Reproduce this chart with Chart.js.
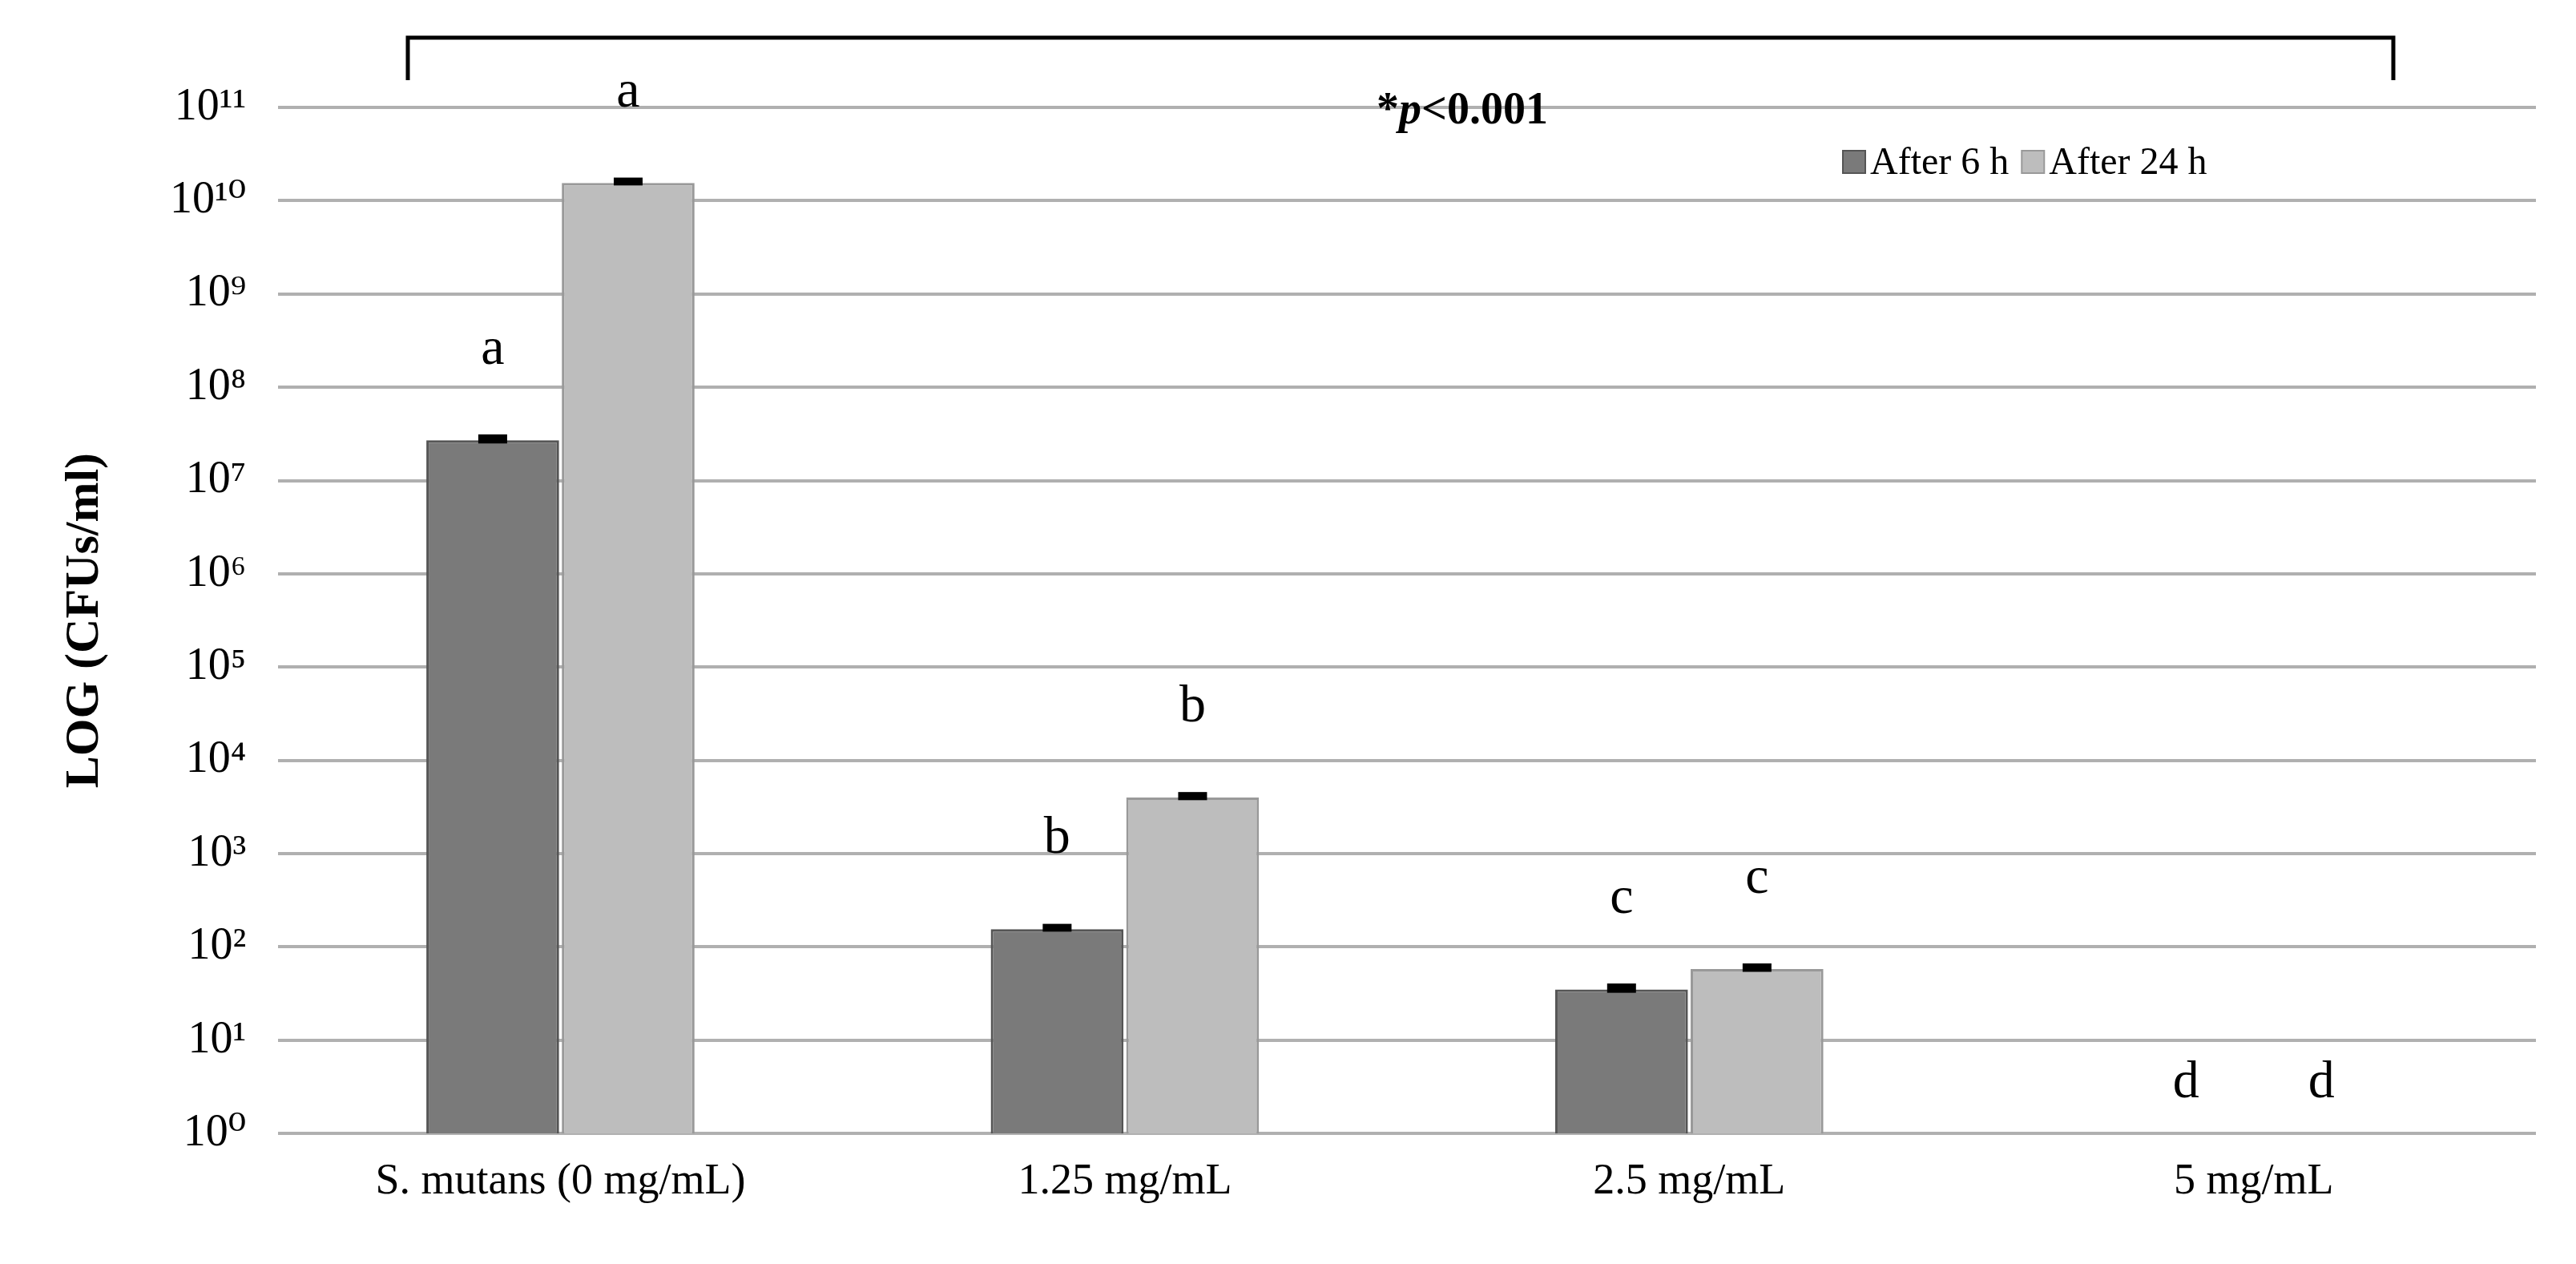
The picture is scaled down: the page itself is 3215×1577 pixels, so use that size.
<!DOCTYPE html>
<html><head><meta charset="utf-8">
<script src="https://cdn.jsdelivr.net/npm/chart.js@4/dist/chart.umd.min.js"></script>
<style>html,body{margin:0;background:#fff}#w{width:3215px;height:1577px}</style>
</head><body><div id="w"><canvas id="c"></canvas></div>
<script>
const categories = ["S. mutans (0 mg/mL)", "1.25 mg/mL", "2.5 mg/mL", "5 mg/mL"];
const after6h = [2.7e7, 155, 35, null];
const after24h = [1.55e10, 4000, 58, null];
const err6h = [0.3e7, 15, 4, null];
const err24h = [0.15e10, 400, 6, null];
const letters6h = ["a", "b", "c", "d"];
const letters24h = ["a", "b", "c", "d"];
const yTicks = [1,10,100,1e3,1e4,1e5,1e6,1e7,1e8,1e9,1e10,1e11];
const legendLabels = ["After 6 h", "After 24 h"];
const pText = "<0.001";

const SERIF = "'Liberation Serif','DejaVu Serif',serif";
const sup = {"0":"⁰","1":"¹","2":"²","3":"³","4":"⁴","5":"⁵","6":"⁶","7":"⁷","8":"⁸","9":"⁹"};
const colors = ["#7a7a7a", "#bdbdbd"], borders = ["#555", "#999"];

const overlay = {
  id: 'overlay',
  afterDatasetsDraw(chart) {
    const ctx = chart.ctx, y = chart.scales.y;
    const errs = [err6h, err24h], letters = [letters6h, letters24h];
    ctx.save();
    [0,1].forEach(di => {
      const meta = chart.getDatasetMeta(di);
      meta.data.forEach((bar, i) => {
        const v = chart.data.datasets[di].data[i];
        let top;
        if (v != null) {
          const e = errs[di][i];
          const y1 = y.getPixelForValue(v + e), y0 = y.getPixelForValue(Math.max(v - e, 1));
          ctx.fillStyle = '#000';
          ctx.fillRect(bar.x - 18, y1 - 2, 36, Math.max(8, y0 - y1));
          top = y.getPixelForValue(v);
        } else top = y.getPixelForValue(1);
        ctx.font = "66px " + SERIF;
        ctx.textAlign = 'center'; ctx.textBaseline = 'alphabetic';
        ctx.fillStyle = '#000';
        ctx.fillText(letters[di][i], bar.x, top - (v == null ? 45 : 95));
      });
    });
    ctx.strokeStyle = '#000'; ctx.lineWidth = 5;
    ctx.beginPath(); ctx.moveTo(509, 100); ctx.lineTo(509, 47); ctx.lineTo(2987, 47); ctx.lineTo(2987, 100); ctx.stroke();
    ctx.textAlign = 'left'; ctx.textBaseline = 'middle';
    const parts = [["*", "bold 56px "], ["p", "bold italic 56px "], [pText, "bold 56px "]];
    let tw = 0; parts.forEach(p => { ctx.font = p[1] + SERIF; tw += ctx.measureText(p[0]).width; });
    let x = 1825 - tw / 2;
    parts.forEach(p => { ctx.font = p[1] + SERIF; ctx.fillText(p[0], x, 140); x += ctx.measureText(p[0]).width; });
    ctx.font = "48px " + SERIF;
    let lx = 2300;
    legendLabels.forEach((l, i) => {
      ctx.fillStyle = colors[i]; ctx.fillRect(lx, 188, 28, 28);
      ctx.strokeStyle = borders[i]; ctx.lineWidth = 2; ctx.strokeRect(lx, 188, 28, 28);
      ctx.fillStyle = '#000'; ctx.fillText(l, lx + 34, 204);
      lx += 34 + ctx.measureText(l).width + 16;
    });
    ctx.restore();
  }
};

new Chart(document.getElementById('c'), {
  type: 'bar',
  data: {
    labels: categories,
    datasets: [
      { label: legendLabels[0], data: after6h, backgroundColor: colors[0], borderColor: borders[0], borderWidth: 3 },
      { label: legendLabels[1], data: after24h, backgroundColor: colors[1], borderColor: borders[1], borderWidth: 3 }
    ]
  },
  options: {
    responsive: true, maintainAspectRatio: false, animation: false,
    layout: { padding: { top: 134, right: 50, left: 40, bottom: 50 } },
    plugins: { legend: { display: false }, tooltip: { enabled: false } },
    datasets: { bar: { categoryPercentage: 0.48, barPercentage: 0.98 } },
    scales: {
      x: {
        grid: { display: false }, border: { display: false },
        ticks: { color: '#000', font: { family: SERIF, size: 54 }, padding: 20 }
      },
      y: {
        type: 'logarithmic', min: 1, max: 1e11,
        afterBuildTicks: s => { s.ticks = yTicks.map(v => ({ value: v })); },
        grid: { color: '#b0b0b0', lineWidth: 4, drawTicks: false },
        border: { display: false },
        ticks: { color: '#000', font: { family: SERIF, size: 56 }, padding: 40,
          callback: v => "10" + String(Math.round(Math.log10(v))).split('').map(c => sup[c]).join('') },
        title: { display: true, text: "LOG (CFUs/ml)", color: '#000', font: { family: SERIF, size: 60, weight: 'bold' }, padding: 30 }
      }
    }
  },
  plugins: [overlay]
});
</script></body></html>
